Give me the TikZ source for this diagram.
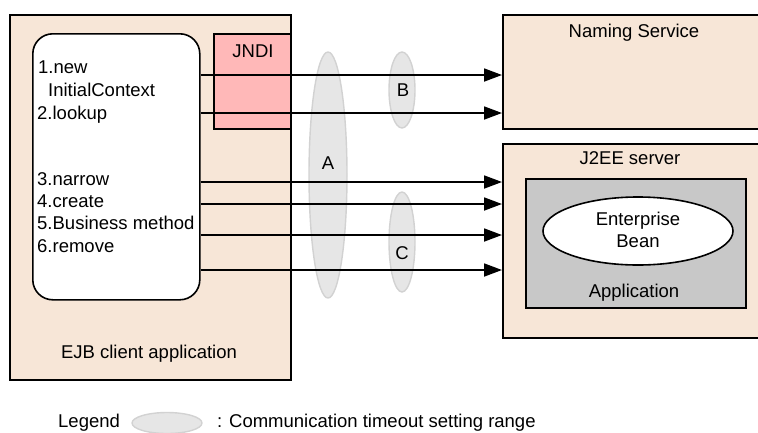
\documentclass[tikz,border=0pt]{standalone}
\usepackage{fontspec}
\setmainfont{Liberation Sans}
\usetikzlibrary{arrows.meta,shapes.geometric}
\definecolor{beige}{HTML}{F7E6D7}
\definecolor{pinkj}{HTML}{FFB8B8}
\definecolor{appgray}{HTML}{C8C8C8}
\definecolor{rangefill}{HTML}{E6E6E6}
\definecolor{rangeline}{HTML}{D2D2D2}
\tikzset{
  box/.style={draw=black, line width=1.6pt, anchor=north west, inner sep=0pt},
  lbl/.style={inner sep=0pt, font=\fontsize{18.5}{22}\selectfont},
  rng/.style={ellipse, draw=rangeline, fill=rangefill, line width=1.4pt, inner sep=0pt},
  arr/.style={line width=1.8pt, -{Triangle[length=18pt,width=13pt]}},
}
\begin{document}
\begin{tikzpicture}[x=1pt,y=-1pt]
\useasboundingbox (0,0) rectangle (758,432);
% client application
\node[box, fill=beige, minimum width=281pt, minimum height=365pt] (client) at (9,14) {};
\node[box, fill=white, rounded corners=20pt, minimum width=167pt, minimum height=266pt] (inner) at (32,33) {};
\node[box, fill=pinkj, minimum width=77pt, minimum height=95pt] (jndi) at (213,33) {};
\node[lbl, anchor=base] (jnditxt) at (253,57) {JNDI};
\node[lbl, anchor=base] (clienttxt) at (149,358) {EJB client application};
\node[lbl, anchor=base west] (s1) at (38,73) {1.new};
\node[lbl, anchor=base west] (s1b) at (48,96) {InitialContext};
\node[lbl, anchor=base west] (s2) at (37,119) {2.lookup};
\node[lbl, anchor=base west] (s3) at (37,185) {3.narrow};
\node[lbl, anchor=base west] (s4) at (37,207) {4.create};
\node[lbl, anchor=base west] (s5) at (37,229) {5.Business method};
\node[lbl, anchor=base west] (s6) at (37,252) {6.remove};
% naming service
\node[box, fill=beige, minimum width=270pt, minimum height=114pt] (naming) at (502,14) {};
\node[lbl, anchor=base] (namingtxt) at (634,37) {Naming Service};
% J2EE server
\node[box, fill=beige, minimum width=270pt, minimum height=194pt] (j2ee) at (502,143) {};
\node[lbl, anchor=base] (j2eetxt) at (630,164) {J2EE server};
\node[box, fill=appgray, minimum width=220pt, minimum height=129pt] (app) at (525,178) {};
\node[lbl, anchor=base] (apptxt) at (634,297) {Application};
\node[ellipse, draw=black, line width=1.6pt, fill=white, minimum width=190pt, minimum height=68pt, inner sep=0pt] (bean) at (638,231) {};
\node[lbl, anchor=base] (beantxt1) at (638,225) {Enterprise};
\node[lbl, anchor=base] (beantxt2) at (638,247) {Bean};
% timeout ranges
\node[rng, minimum width=38pt, minimum height=246pt] (rA) at (328,175) {};
\node[rng, minimum width=26pt, minimum height=76pt] (rB) at (402,90) {};
\node[rng, minimum width=26pt, minimum height=100pt] (rC) at (402,242) {};
\node[lbl, anchor=base] (tA) at (328,169) {A};
\node[lbl, anchor=base] (tB) at (403,96) {B};
\node[lbl, anchor=base] (tC) at (402,259) {C};
% arrows
\draw[arr] (inner.east |- 0,75) -- (naming.west |- 0,75);
\draw[arr] (inner.east |- 0,113) -- (naming.west |- 0,113);
\draw[arr] (inner.east |- 0,182) -- (j2ee.west |- 0,182);
\draw[arr] (inner.east |- 0,204) -- (j2ee.west |- 0,204);
\draw[arr] (inner.east |- 0,235) -- (j2ee.west |- 0,235);
\draw[arr] (inner.east |- 0,270) -- (j2ee.west |- 0,270);
% legend
\node[lbl, anchor=base west] (leg) at (58,427) {Legend};
\node[rng, minimum width=70pt, minimum height=21pt] (legrng) at (167,423) {};
\node[lbl, anchor=base west] (legtxt) at (217,427) {: Communication timeout setting range};
\end{tikzpicture}
\end{document}
